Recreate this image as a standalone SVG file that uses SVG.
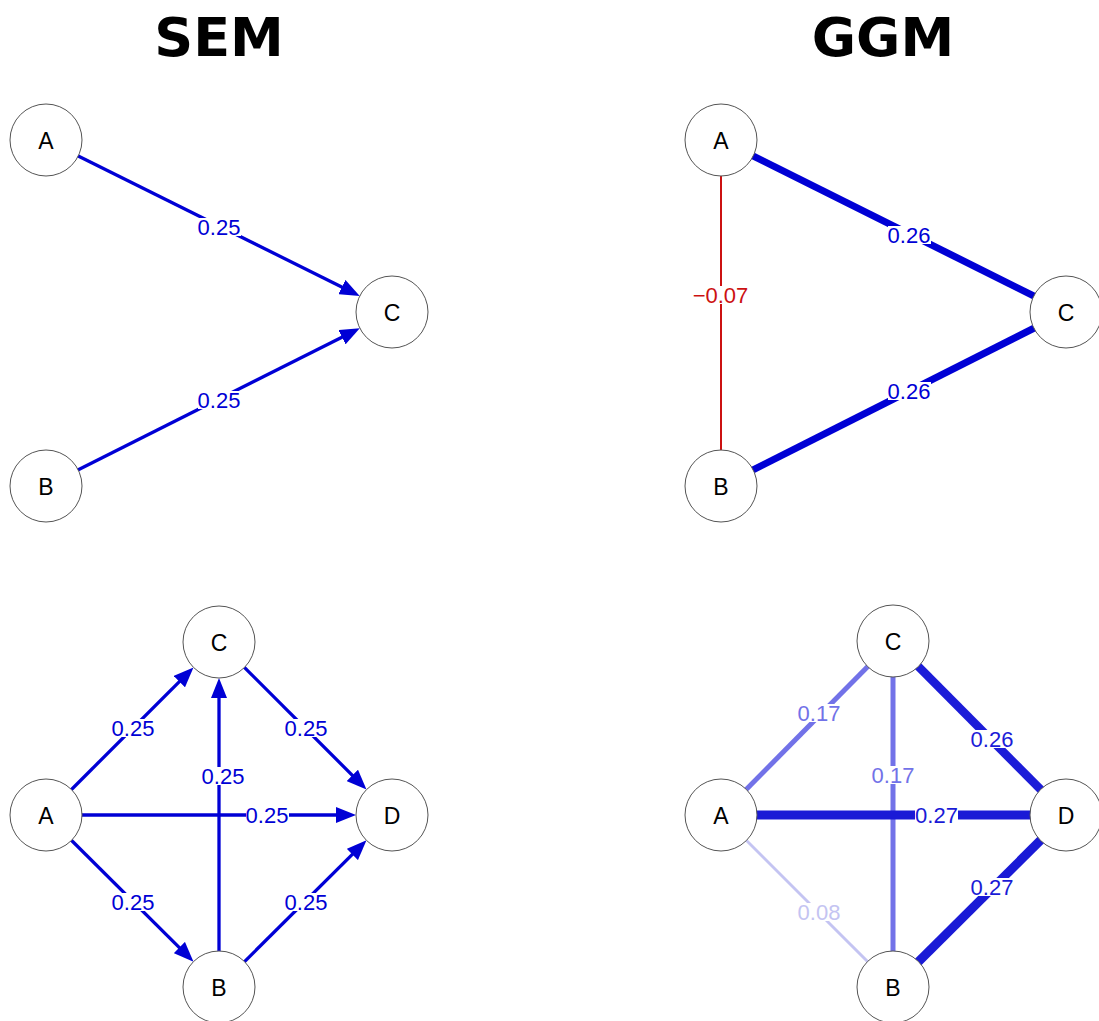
<svg xmlns="http://www.w3.org/2000/svg" width="1099" height="1021" viewBox="0 0 1099 1021">
  <style>
    .title { font-family: "DejaVu Sans", sans-serif; font-weight: bold; font-size: 54px; fill: #000; text-anchor: middle; }
    .node circle { fill: #fff; stroke: #555; stroke-width: 1; }
    .node text { font-family: "Liberation Sans", Arial, sans-serif; font-size: 23px; fill: #000; text-anchor: middle; }
    .elab { font-family: "Liberation Sans", Arial, sans-serif; font-size: 22px; text-anchor: middle; }
    .bg { fill: #fff; }
    .sem { stroke: #0000D5; stroke-width: 3.3; fill: none; }
  </style>
  <defs>
    <marker id="arr" markerUnits="userSpaceOnUse" markerWidth="20" markerHeight="16" refX="10" refY="8" orient="auto">
      <path d="M0,0 L20,8 L0,16 z" fill="#0000D5"/>
    </marker>
  </defs>
  <rect width="1099" height="1021" fill="#fff"/>
  <text class="title" x="219" y="56">SEM</text>
  <text class="title" x="883" y="56">GGM</text>

  <g id="connectors">
    <!-- SEM top -->
    <line class="sem" x1="46" y1="140" x2="350.8" y2="291.5" marker-end="url(#arr)"/>
    <line class="sem" x1="46" y1="486" x2="350.9" y2="332.7" marker-end="url(#arr)"/>
    <!-- GGM top -->
    <line x1="721" y1="140" x2="721" y2="486" stroke="#CC1111" stroke-width="2"/>
    <line x1="721" y1="140" x2="1066" y2="312" stroke="#0000D5" stroke-width="7"/>
    <line x1="721" y1="486" x2="1066" y2="312" stroke="#0000D5" stroke-width="7"/>
    <!-- SEM bottom -->
    <line class="sem" x1="46" y1="815" x2="186.4" y2="674.6" marker-end="url(#arr)"/>
    <line class="sem" x1="219" y1="642" x2="359.4" y2="782.4" marker-end="url(#arr)"/>
    <line class="sem" x1="46" y1="815" x2="346" y2="815" marker-end="url(#arr)"/>
    <line class="sem" x1="46" y1="815" x2="186.4" y2="954.6" marker-end="url(#arr)"/>
    <line class="sem" x1="219" y1="987" x2="359.4" y2="847.4" marker-end="url(#arr)"/>
    <line class="sem" x1="219" y1="987" x2="219" y2="688" marker-end="url(#arr)"/>
    <!-- GGM bottom -->
    <line x1="721" y1="815" x2="893" y2="987" stroke="#C4C4F2" stroke-width="3"/>
    <line x1="721" y1="815" x2="893" y2="641" stroke="#7272E8" stroke-width="5"/>
    <line x1="893" y1="641" x2="893" y2="987" stroke="#7272E8" stroke-width="5"/>
    <line x1="893" y1="641" x2="1066" y2="815" stroke="#1C1CD8" stroke-width="8.5"/>
    <line x1="721" y1="815" x2="1066" y2="815" stroke="#1A1AD6" stroke-width="9"/>
    <line x1="893" y1="987" x2="1066" y2="815" stroke="#1A1AD6" stroke-width="9"/>

    <!-- edge labels -->
    <g fill="#0000D5">
      <rect class="bg" x="198" y="218" width="43" height="18"/><text class="elab" x="219" y="234.5">0.25</text>
      <rect class="bg" x="198" y="391" width="43" height="18"/><text class="elab" x="219" y="407.5">0.25</text>
      <rect class="bg" x="888" y="226" width="43" height="18"/><text class="elab" x="909" y="242.5">0.26</text>
      <rect class="bg" x="888" y="382" width="43" height="18"/><text class="elab" x="909" y="398.5">0.26</text>
      <rect class="bg" x="112" y="719" width="43" height="18"/><text class="elab" x="133" y="735.5">0.25</text>
      <rect class="bg" x="285" y="719" width="43" height="18"/><text class="elab" x="306" y="735.5">0.25</text>
      <rect class="bg" x="202" y="767" width="43" height="18"/><text class="elab" x="223" y="783.5">0.25</text>
      <rect class="bg" x="246" y="806" width="43" height="18"/><text class="elab" x="267" y="822.5">0.25</text>
      <rect class="bg" x="112" y="893" width="43" height="18"/><text class="elab" x="133" y="909.5">0.25</text>
      <rect class="bg" x="285" y="893" width="43" height="18"/><text class="elab" x="306" y="909.5">0.25</text>
    </g>
    <rect class="bg" x="692" y="286" width="57" height="18"/><text class="elab" x="720.5" y="302.5" fill="#CC1111">−0.07</text>
    <rect class="bg" x="798" y="704" width="43" height="18"/><text class="elab" x="819" y="720.5" fill="#7272E8">0.17</text>
    <rect class="bg" x="872" y="766" width="43" height="18"/><text class="elab" x="893" y="782.5" fill="#7272E8">0.17</text>
    <rect class="bg" x="971" y="730" width="43" height="18"/><text class="elab" x="992" y="746.5" fill="#1C1CD8">0.26</text>
    <rect class="bg" x="915" y="806" width="43" height="18"/><text class="elab" x="936.5" y="822.5" fill="#1A1AD6">0.27</text>
    <rect class="bg" x="798" y="903" width="43" height="18"/><text class="elab" x="819" y="919.5" fill="#C4C4F2">0.08</text>
    <rect class="bg" x="971" y="878" width="43" height="18"/><text class="elab" x="992" y="894.5" fill="#1A1AD6">0.27</text>
  </g>

  <!-- SEM top nodes -->
  <g id="sem1-A" class="node"><circle cx="46" cy="140" r="36"/><text x="46" y="148.5">A</text></g>
  <g id="sem1-B" class="node"><circle cx="46" cy="486" r="36"/><text x="46" y="494.5">B</text></g>
  <g id="sem1-C" class="node"><circle cx="392" cy="312" r="36"/><text x="392" y="320.5">C</text></g>
  <!-- GGM top nodes -->
  <g id="ggm1-A" class="node"><circle cx="721" cy="140" r="36"/><text x="721" y="148.5">A</text></g>
  <g id="ggm1-B" class="node"><circle cx="721" cy="486" r="36"/><text x="721" y="494.5">B</text></g>
  <g id="ggm1-C" class="node"><circle cx="1066" cy="312" r="36"/><text x="1066" y="320.5">C</text></g>
  <!-- SEM bottom nodes -->
  <g id="sem2-A" class="node"><circle cx="46" cy="815" r="36"/><text x="46" y="823.5">A</text></g>
  <g id="sem2-B" class="node"><circle cx="219" cy="987" r="36"/><text x="219" y="995.5">B</text></g>
  <g id="sem2-C" class="node"><circle cx="219" cy="642" r="36"/><text x="219" y="650.5">C</text></g>
  <g id="sem2-D" class="node"><circle cx="392" cy="815" r="36"/><text x="392" y="823.5">D</text></g>
  <!-- GGM bottom nodes -->
  <g id="ggm2-A" class="node"><circle cx="721" cy="815" r="36"/><text x="721" y="823.5">A</text></g>
  <g id="ggm2-B" class="node"><circle cx="893" cy="987" r="36"/><text x="893" y="995.5">B</text></g>
  <g id="ggm2-C" class="node"><circle cx="893" cy="641" r="36"/><text x="893" y="649.5">C</text></g>
  <g id="ggm2-D" class="node"><circle cx="1066" cy="815" r="36"/><text x="1066" y="823.5">D</text></g>
</svg>
